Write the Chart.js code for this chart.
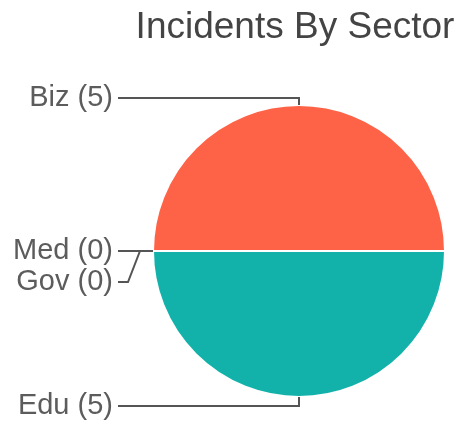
<!DOCTYPE html>
<html>
<head>
<meta charset="utf-8">
<script src="https://cdn.jsdelivr.net/npm/chart.js@4/dist/chart.umd.min.js"></script>
<style>
  html, body { margin: 0; padding: 0; background: #fff; }
  #wrap { width: 463px; height: 424px; }
</style>
</head>
<body>
<div id="wrap"><canvas id="sector_chart"></canvas></div>
<script>
const sectors = ["Biz", "Edu", "Med", "Gov"];
const incidents = [5, 5, 0, 0];
const sectorColors = ["#FF6347", "#12B2AA", "#7E57C2", "#FFC107"];
const chartTitle = "Incidents By Sector";

const FONT = '"Liberation Sans", Arial, Helvetica, sans-serif';

// title + labels with leader lines on the left of the pie
const leaderLabels = {
    id: "leaderLabels",
    afterDatasetsDraw(chart) {
        const ctx = chart.ctx;
        const area = chart.chartArea;
        const arcs = chart.getDatasetMeta(0).data;
        const textRight = area.left - 39;
        const items = arcs.map((arc, i) => {
            const a = (arc.startAngle + arc.endAngle) / 2;
            const r = arc.outerRadius;
            const ax = arc.x + Math.cos(a) * r;
            const ay = arc.y + Math.sin(a) * r;
            let y = ay;
            const s = Math.sin(a);
            if (s < -0.9) y = ay - 7;
            else if (s > 0.9) y = ay + 9;
            return { i, a, ax, ay, y, vertical: Math.abs(s) > 0.9 };
        });
        // push overlapping labels down
        const sorted = [...items].sort((p, q) => p.y - q.y || p.i - q.i);
        for (let k = 1; k < sorted.length; k++) {
            if (sorted[k].y - sorted[k - 1].y < 31) sorted[k].y = sorted[k - 1].y + 31;
        }

        ctx.save();
        ctx.strokeStyle = "#555";
        ctx.lineWidth = 2;
        ctx.font = "29px " + FONT;
        ctx.fillStyle = "#5c5c5c";
        ctx.textAlign = "right";
        ctx.textBaseline = "middle";
        items.forEach(it => {
            ctx.beginPath();
            ctx.moveTo(it.ax, it.ay);
            if (it.vertical) {
                ctx.lineTo(it.ax, it.y);
            } else if (Math.abs(it.y - it.ay) > 1) {
                ctx.lineTo(it.ax - 13, it.ay);
                ctx.lineTo(textRight + 15, it.y);
            }
            ctx.lineTo(textRight + 5, it.y);
            ctx.stroke();
            ctx.fillText(sectors[it.i] + " (" + incidents[it.i] + ")", textRight, it.y);
        });

        // title, centred over the pie
        ctx.font = "37px " + FONT;
        ctx.fillStyle = "#444";
        ctx.textAlign = "center";
        ctx.fillText(chartTitle, (area.left + area.right) / 2 - 4, 28);
        ctx.restore();
    }
};

new Chart(document.getElementById("sector_chart"), {
    type: "pie",
    data: {
        labels: sectors,
        datasets: [{
            data: incidents,
            backgroundColor: sectorColors,
            borderColor: "#fff",
            borderWidth: 2,
        }],
    },
    options: {
        responsive: true,
        maintainAspectRatio: false,
        animation: false,
        rotation: -90,
        layout: {
            padding: { left: 152, right: 17, top: 104, bottom: 26 },
        },
        plugins: {
            legend: { display: false },
            tooltip: { enabled: false },
            title: { display: false },
        },
    },
    plugins: [leaderLabels],
});
</script>
</body>
</html>
